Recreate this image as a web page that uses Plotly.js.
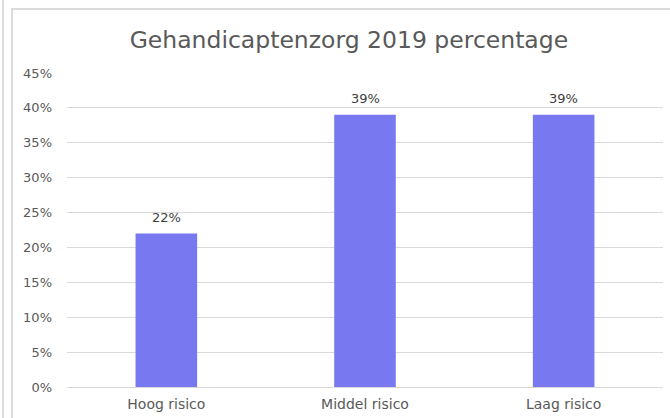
<!DOCTYPE html>
<html>
<head>
<meta charset="utf-8">
<script src="https://cdn.plot.ly/plotly-3.0.1.min.js"></script>
<style>
  html, body { margin: 0; padding: 0; background: #ffffff; }
  body { width: 670px; height: 418px; position: relative; overflow: hidden; }
  #leftline { position: absolute; left: 2px; top: 0; width: 2px; height: 418px; background: #dcdcdc; }
  #frame { position: absolute; left: 11px; top: 8px; width: 659px; height: 410px;
           border-left: 2px solid #dcdcdc; border-top: 2px solid #dcdcdc; box-sizing: border-box; }
  #chart { position: absolute; left: 12px; top: 9px; width: 658px; height: 409px; }
</style>
</head>
<body>
<div id="leftline"></div>
<div id="frame"></div>
<div id="chart"></div>
<script>
const categories = ["Hoog risico", "Middel risico", "Laag risico"];
const values = [0.22, 0.39, 0.39];
const tickValues = [0, 0.05, 0.10, 0.15, 0.20, 0.25, 0.30, 0.35, 0.40, 0.45];
const tickLabels = ["0%", "5%", "10%", "15%", "20%", "25%", "30%", "35%", "40%", "45%"];
const titleText = "Gehandicaptenzorg 2019 percentage";

const FONT = "DejaVu Sans, sans-serif";

const trace = {
  type: "bar",
  x: categories,
  y: values,
  marker: { color: "#7878f0" },
  hoverinfo: "skip"
};

const annotations = categories.map((c, i) => ({
  x: c,
  y: values[i],
  xref: "x",
  yref: "y",
  text: Math.round(values[i] * 100) + "%",
  showarrow: false,
  yanchor: "middle",
  yshift: 16,
  font: { family: FONT, size: 13, color: "#404040" }
}));

const layout = {
  width: 658,
  height: 409,
  margin: { l: 55, r: 7, t: 64, b: 30.5, pad: 0 },
  paper_bgcolor: "rgba(0,0,0,0)",
  plot_bgcolor: "#ffffff",
  bargap: 0.69,
  showlegend: false,
  title: {
    text: titleText,
    x: 0.512,
    xref: "container",
    xanchor: "center",
    y: 1 - 31 / 409,
    yref: "container",
    yanchor: "middle",
    font: { family: FONT, size: 23.5, color: "#595959" }
  },
  xaxis: {
    type: "category",
    showgrid: false,
    zeroline: false,
    showline: false,
    ticks: "",
    ticklabelstandoff: 7,
    tickfont: { family: FONT, size: 14, color: "#595959" },
    fixedrange: true
  },
  yaxis: {
    range: [0, 0.45],
    tickvals: tickValues,
    ticktext: tickLabels,
    showgrid: true,
    gridcolor: "#d9d9d9",
    gridwidth: 1,
    zeroline: true,
    zerolinecolor: "#d9d9d9",
    zerolinewidth: 1,
    showline: false,
    ticks: "",
    ticklabelstandoff: 14,
    tickfont: { family: FONT, size: 13, color: "#595959" },
    fixedrange: true
  },
  annotations: annotations
};

Plotly.newPlot("chart", [trace], layout, { displayModeBar: false, staticPlot: true });
</script>
</body>
</html>
